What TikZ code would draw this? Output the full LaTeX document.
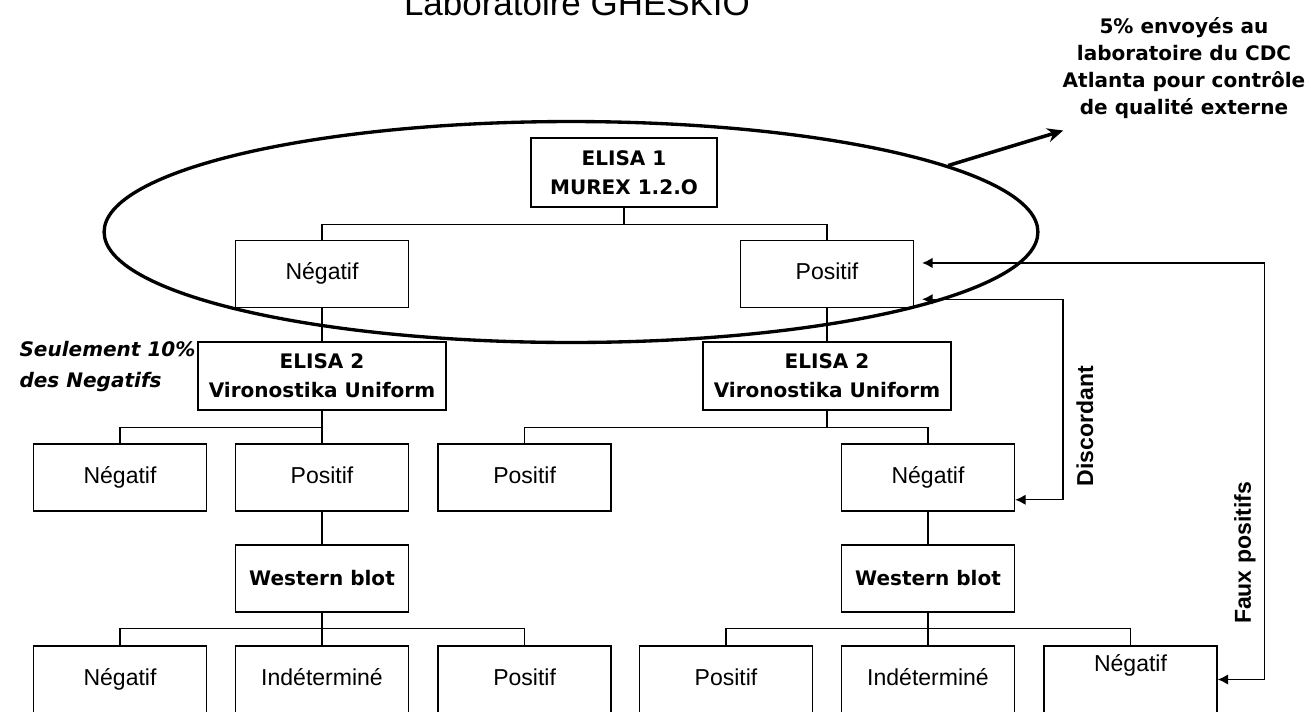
\documentclass[tikz,border=0pt]{standalone}
\usepackage{fontspec}
\setmainfont{Liberation Sans}
\newfontfamily\comic{DejaVu Sans}
\usetikzlibrary{shapes.geometric,arrows.meta}
\tikzset{
  box/.style={draw, minimum width=3.46cm, minimum height=1.34cm, inner sep=2pt},
  result/.style={box, text height=9.5pt, text depth=2.8pt, font=\fontsize{13.1}{15}\selectfont},
  assay/.style={box, align=center, font=\comic\bfseries\fontsize{11.4}{16.5}\selectfont},
  side/.style={rotate=90, font=\bfseries\fontsize{13.1}{15}\selectfont},
  back/.style={{Latex[length=6pt,width=6pt]}-{Latex[length=6pt,width=6pt]}},
}
\begin{document}
\begin{tikzpicture}[x=0.02cm, y=-0.02cm, line width=0.8pt]
        \useasboundingbox (0,0) rectangle (1311,711);
        \node [anchor=base, font=\fontsize{19.9}{24}\selectfont] (title) at (577,15) {Laboratoire GHESKIO};
        \node [assay, minimum width=3.72cm, minimum height=1.38cm] (e1) at (624,172.5) {ELISA 1\\MUREX 1.2.O};
        \node [result] (n1) at (322,274) {Négatif};
        \node [result] (p1) at (827,274) {Positif};
        \node [assay, minimum width=4.96cm, minimum height=1.36cm] (e2l) at (322,376) {ELISA 2\\Vironostika Uniform};
        \node [assay, minimum width=4.96cm, minimum height=1.36cm] (e2r) at (827,376) {ELISA 2\\Vironostika Uniform};
        \node [result] (a1) at (120,477.5) {Négatif};
        \node [result] (a2) at (322,477.5) {Positif};
        \node [result] (a3) at (524.6,477.5) {Positif};
        \node [result] (a4) at (928,477.5) {Négatif};
        \node [assay] (wbl) at (322,578.5) {Western blot};
        \node [assay] (wbr) at (928,578.5) {Western blot};
        \node [result] (b1) at (120,679.5) {Négatif};
        \node [result] (b2) at (322,679.5) {Indéterminé};
        \node [result] (b3) at (524.6,679.5) {Positif};
        \node [result] (b4) at (726,679.5) {Positif};
        \node [result] (b5) at (928,679.5) {Indéterminé};
        \node [result] (b6) at (1130.5,679.5) {\raisebox{8pt}[\height][\depth]{Négatif}};
        \draw (e1.south) -- ++(0,17) -| (n1.north);
        \draw (e1.south) -- ++(0,17) -| (p1.north);
        \draw (n1) -- (e2l);
        \draw (p1) -- (e2r);
        \draw (e2l.south) -- ++(0,17) -| (a1.north);
        \draw (e2l) -- (a2);
        \draw (e2r.south) -- ++(0,17) -| (a3.north);
        \draw (e2r.south) -- ++(0,17) -| (a4.north);
        \draw (a2) -- (wbl);
        \draw (a4) -- (wbr);
        \foreach \b in {b1,b2,b3} \draw (wbl.south) -- ++(0,16) -| (\b.north);
        \foreach \b in {b4,b5,b6} \draw (wbr.south) -- ++(0,16) -| (\b.north);
        \node [draw, ellipse, line width=1.9pt, minimum width=18.68cm, minimum height=4.42cm, inner sep=0pt] (ring) at (571,232) {};
        \node [align=center, font=\comic\bfseries\fontsize{11.4}{15.4}\selectfont] (cdc) at (1184,68) {5\% envoyés au\\laboratoire du CDC\\Atlanta pour contrôle\\de qualité externe};
        \draw [line width=2pt, -{Stealth[length=9pt,width=8pt]}] (ring.10) -- ([xshift=4pt,yshift=-3pt]cdc.south west);
        \node [anchor=west, align=left, font=\comic\bfseries\itshape\fontsize{11.4}{17.6}\selectfont] (note) at (13,367) {Seulement 10\%\\des Negatifs};
        \draw [back, shorten >=4.5pt] ([yshift=6.8pt]a4.south east) -- ++(47.6,0) |- ([yshift=5.1pt]p1.south east);
        \draw [back, shorten >=4.5pt] (b6.east) -- ++(46.5,0) |- ([yshift=6.3pt]p1.east);
        \node [side] (disc) at (1085,426) {Discordant};
        \node [side] (faux) at (1245,553) {Faux positifs};
\end{tikzpicture}
\end{document}
